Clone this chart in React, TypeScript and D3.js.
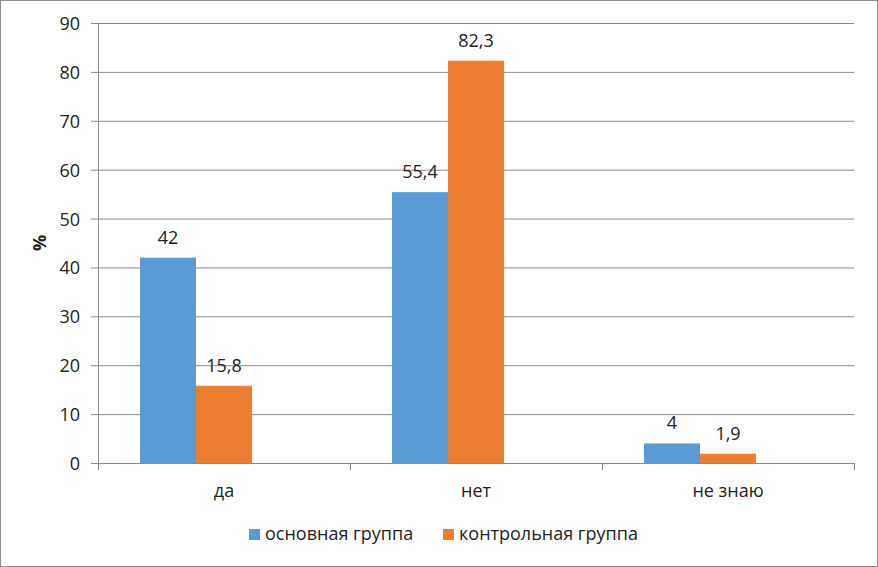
import * as d3 from "d3"

const categories = ["да", "нет", "не знаю"]
const seriesNames = ["основная группа", "контрольная группа"]
const mainValues = [42, 55.4, 4]
const controlValues = [15.8, 82.3, 1.9]
const valueLabels = [
  ["42", "55,4", "4"],
  ["15,8", "82,3", "1,9"],
]
const yTicks = [0, 10, 20, 30, 40, 50, 60, 70, 80, 90]
const colors = ["#5B9BD5", "#ED7D31"]

const W = 878
const H = 567
const margin = { top: 23, right: 24, bottom: 104, left: 98 }
const font = "'Open Sans', 'Liberation Sans', sans-serif"
const gridColor = "#898989"
const fs = 18

export default function App() {
  const x0 = d3
    .scaleBand()
    .domain(categories)
    .range([margin.left, W - margin.right])
    .paddingInner(0)
    .paddingOuter(0)

  // excel reserves a third (empty) slot in each group
  const x1 = d3
    .scaleBand()
    .domain(["s0", "s1", "s2"])
    .range([0, x0.bandwidth()])
    .paddingInner(0)
    .paddingOuter(0.75)

  const y = d3
    .scaleLinear()
    .domain([0, 90])
    .range([H - margin.bottom, margin.top])

  const series = [mainValues, controlValues]
  const y0 = y(0)

  return (
    <svg
      width={W}
      height={H}
      style={{ position: "absolute", left: 0, top: 0, background: "#fff" }}
      fontFamily={font}
    >
      <rect x={0.5} y={0.5} width={W - 1} height={H - 1} fill="#fff" stroke="#8c8c8c" />

      {yTicks.map((t) => (
        <g key={t}>
          <line
            x1={margin.left - 7}
            x2={x0.range()[1]}
            y1={y(t) + 0.5}
            y2={y(t) + 0.5}
            stroke={gridColor}
            strokeWidth={1}
          />
          <text x={80} y={y(t)} textAnchor="end" dominantBaseline="central" fontSize={fs} fill="#222">
            {t}
          </text>
        </g>
      ))}

      <line
        x1={margin.left + 0.5}
        x2={margin.left + 0.5}
        y1={y(90)}
        y2={y0 + 7}
        stroke={gridColor}
      />
      {categories.map((c, i) => (
        <line
          key={"tk" + i}
          x1={(x0(c) ?? 0) + x0.bandwidth() + 0.5}
          x2={(x0(c) ?? 0) + x0.bandwidth() + 0.5}
          y1={y0}
          y2={y0 + 7}
          stroke={gridColor}
        />
      ))}

      {series.map((vals, si) =>
        vals.map((v, ci) => {
          const bx = (x0(categories[ci]) ?? 0) + (x1("s" + si) ?? 0)
          return (
            <g key={si + "-" + ci}>
              <rect x={bx} y={y(v)} width={x1.bandwidth()} height={y0 - y(v)} fill={colors[si]} />
              <text
                x={bx + x1.bandwidth() / 2}
                y={y(v) - 14}
                textAnchor="middle"
                fontSize={fs}
                fill="#222"
              >
                {valueLabels[si][ci]}
              </text>
            </g>
          )
        })
      )}

      {categories.map((c) => (
        <text
          key={c}
          x={(x0(c) ?? 0) + x0.bandwidth() / 2}
          y={497}
          textAnchor="middle"
          fontSize={fs}
          fill="#222"
        >
          {c}
        </text>
      ))}

      <text
        transform={`translate(46, ${y(45)}) rotate(-90)`}
        textAnchor="middle"
        fontSize={fs}
        fontWeight="bold"
        fill="#222"
      >
        %
      </text>

      {seriesNames.map((s, i) => {
        const lx = i === 0 ? 249 : 443
        return (
          <g key={s}>
            <rect x={lx} y={529} width={11} height={11} fill={colors[i]} />
            <text x={lx + 16} y={540} fontSize={fs} fill="#222">
              {s}
            </text>
          </g>
        )
      })}
    </svg>
  )
}
